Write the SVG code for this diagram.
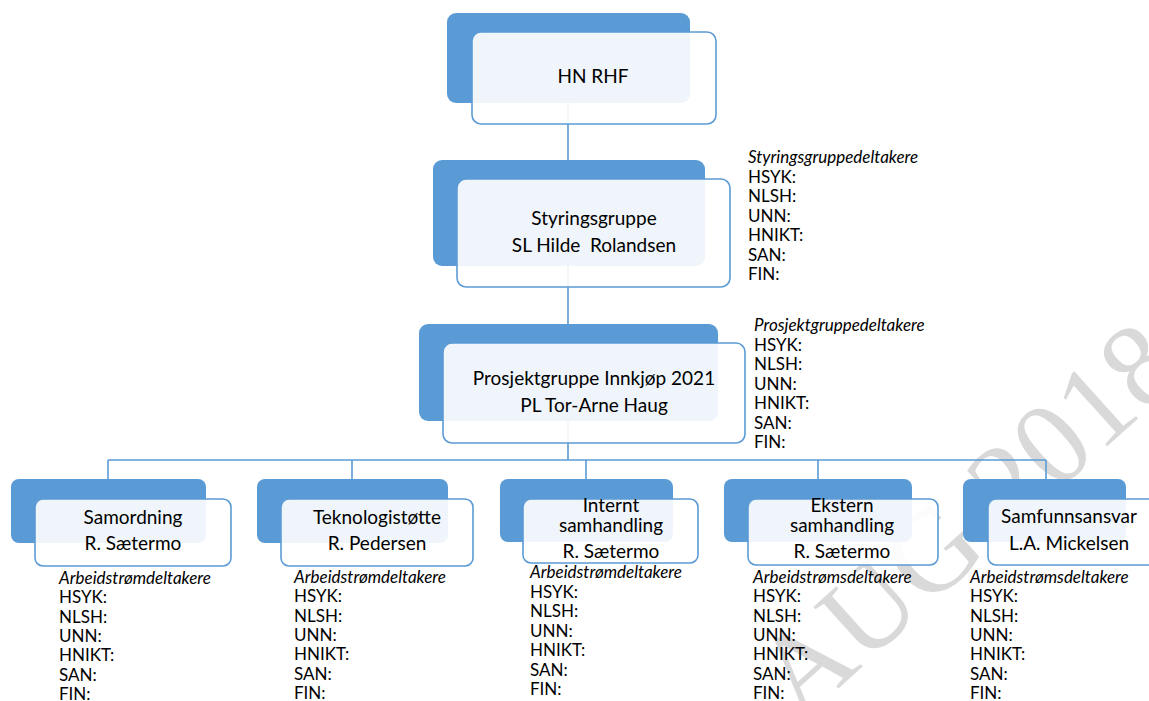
<svg xmlns="http://www.w3.org/2000/svg" width="1149" height="701" viewBox="0 0 1149 701">
<style>
.bg{fill:#5b9bd5;}
.fr{fill:#ffffff;fill-opacity:0.9;stroke:#5b9bd5;stroke-width:1.6;}
.nt{font-family:Lato,"Liberation Sans",sans-serif;font-size:19px;fill:#000;text-anchor:middle;}
.st{font-family:Lato,"Liberation Sans",sans-serif;font-size:17px;fill:#000;}
.it{font-style:italic;}
.wm{font-family:"Liberation Serif",serif;font-size:118px;fill:#d9d9d9;}
.cn{stroke:#5b9bd5;stroke-width:1.6;fill:none;}
</style>
<rect width="1149" height="701" fill="#ffffff"/>
<text class="wm" transform="translate(800,723) rotate(-42)">AUG 2018</text>
<g id="connectors">
<path class="cn" d="M568,103 V179 M568,266 V343 M568,421 V460 M108,460 H1046 M108,460 V479 M352,460 V479 M586,460 V479 M818,460 V479 M1046,460 V479"/>
</g>
<g id="hn-rhf">
<rect class="bg" x="447" y="13" width="243" height="90" rx="9"/>
<rect class="fr" x="472" y="32" width="244" height="92" rx="9"/>
<text class="nt" x="593" y="83">HN RHF</text>
</g>
<g id="styringsgruppe">
<rect class="bg" x="433" y="160" width="272" height="106" rx="9"/>
<rect class="fr" x="457" y="179" width="273" height="108" rx="9"/>
<text class="nt" x="594" y="225">Styringsgruppe</text>
<text class="nt" x="594" y="252" xml:space="preserve">SL Hilde  Rolandsen</text>
<text class="st" x="748" y="163"><tspan class="it">Styringsgruppedeltakere</tspan><tspan x="748" dy="19.5">HSYK:</tspan><tspan x="748" dy="19.5">NLSH:</tspan><tspan x="748" dy="19.5">UNN:</tspan><tspan x="748" dy="19.5">HNIKT:</tspan><tspan x="748" dy="19.5">SAN:</tspan><tspan x="748" dy="19.5">FIN:</tspan></text>
</g>
<g id="prosjektgruppe">
<rect class="bg" x="419" y="324" width="299" height="97" rx="9"/>
<rect class="fr" x="443" y="343" width="302" height="100" rx="9"/>
<text class="nt" x="594" y="385">Prosjektgruppe Innkjøp 2021</text>
<text class="nt" x="594" y="412">PL Tor-Arne Haug</text>
<text class="st" x="754" y="331"><tspan class="it">Prosjektgruppedeltakere</tspan><tspan x="754" dy="19.5">HSYK:</tspan><tspan x="754" dy="19.5">NLSH:</tspan><tspan x="754" dy="19.5">UNN:</tspan><tspan x="754" dy="19.5">HNIKT:</tspan><tspan x="754" dy="19.5">SAN:</tspan><tspan x="754" dy="19.5">FIN:</tspan></text>
</g>
<g id="samordning">
<rect class="bg" x="11" y="479" width="195" height="64" rx="8"/>
<rect class="fr" x="35" y="499" width="196" height="67" rx="8"/>
<text class="nt" x="133" y="524">Samordning</text>
<text class="nt" x="133" y="550">R. Sætermo</text>
<text class="st" x="59" y="584"><tspan class="it">Arbeidstrømdeltakere</tspan><tspan x="59" dy="19.3">HSYK:</tspan><tspan x="59" dy="19.3">NLSH:</tspan><tspan x="59" dy="19.3">UNN:</tspan><tspan x="59" dy="19.3">HNIKT:</tspan><tspan x="59" dy="19.3">SAN:</tspan><tspan x="59" dy="19.3">FIN:</tspan></text>
</g>
<g id="teknologistotte">
<rect class="bg" x="257" y="479" width="191" height="64" rx="8"/>
<rect class="fr" x="281" y="499" width="192" height="67" rx="8"/>
<text class="nt" x="377" y="524">Teknologistøtte</text>
<text class="nt" x="377" y="550">R. Pedersen</text>
<text class="st" x="294" y="583"><tspan class="it">Arbeidstrømdeltakere</tspan><tspan x="294" dy="19.3">HSYK:</tspan><tspan x="294" dy="19.3">NLSH:</tspan><tspan x="294" dy="19.3">UNN:</tspan><tspan x="294" dy="19.3">HNIKT:</tspan><tspan x="294" dy="19.3">SAN:</tspan><tspan x="294" dy="19.3">FIN:</tspan></text>
</g>
<g id="internt-samhandling">
<rect class="bg" x="500" y="479" width="173" height="63" rx="8"/>
<rect class="fr" x="523" y="499" width="175" height="64" rx="8"/>
<text class="nt" x="611" y="512">Internt</text>
<text class="nt" x="611" y="532">samhandling</text>
<text class="nt" x="611" y="558">R. Sætermo</text>
<text class="st" x="530" y="578"><tspan class="it">Arbeidstrømdeltakere</tspan><tspan x="530" dy="19.5">HSYK:</tspan><tspan x="530" dy="19.5">NLSH:</tspan><tspan x="530" dy="19.5">UNN:</tspan><tspan x="530" dy="19.5">HNIKT:</tspan><tspan x="530" dy="19.5">SAN:</tspan><tspan x="530" dy="19.5">FIN:</tspan></text>
</g>
<g id="ekstern-samhandling">
<rect class="bg" x="724" y="479" width="188" height="63" rx="8"/>
<rect class="fr" x="748" y="499" width="190" height="66" rx="8"/>
<text class="nt" x="842" y="512">Ekstern</text>
<text class="nt" x="842" y="532">samhandling</text>
<text class="nt" x="842" y="558">R. Sætermo</text>
<text class="st" x="753" y="583"><tspan class="it">Arbeidstrømsdeltakere</tspan><tspan x="753" dy="19.3">HSYK:</tspan><tspan x="753" dy="19.3">NLSH:</tspan><tspan x="753" dy="19.3">UNN:</tspan><tspan x="753" dy="19.3">HNIKT:</tspan><tspan x="753" dy="19.3">SAN:</tspan><tspan x="753" dy="19.3">FIN:</tspan></text>
</g>
<g id="samfunnsansvar">
<rect class="bg" x="963" y="479" width="163" height="63" rx="8"/>
<rect class="fr" x="988" y="499" width="172" height="66" rx="8"/>
<text class="nt" x="1069" y="523">Samfunnsansvar</text>
<text class="nt" x="1069" y="550">L.A. Mickelsen</text>
<text class="st" x="970" y="583"><tspan class="it">Arbeidstrømsdeltakere</tspan><tspan x="970" dy="19.3">HSYK:</tspan><tspan x="970" dy="19.3">NLSH:</tspan><tspan x="970" dy="19.3">UNN:</tspan><tspan x="970" dy="19.3">HNIKT:</tspan><tspan x="970" dy="19.3">SAN:</tspan><tspan x="970" dy="19.3">FIN:</tspan></text>
</g>
</svg>
